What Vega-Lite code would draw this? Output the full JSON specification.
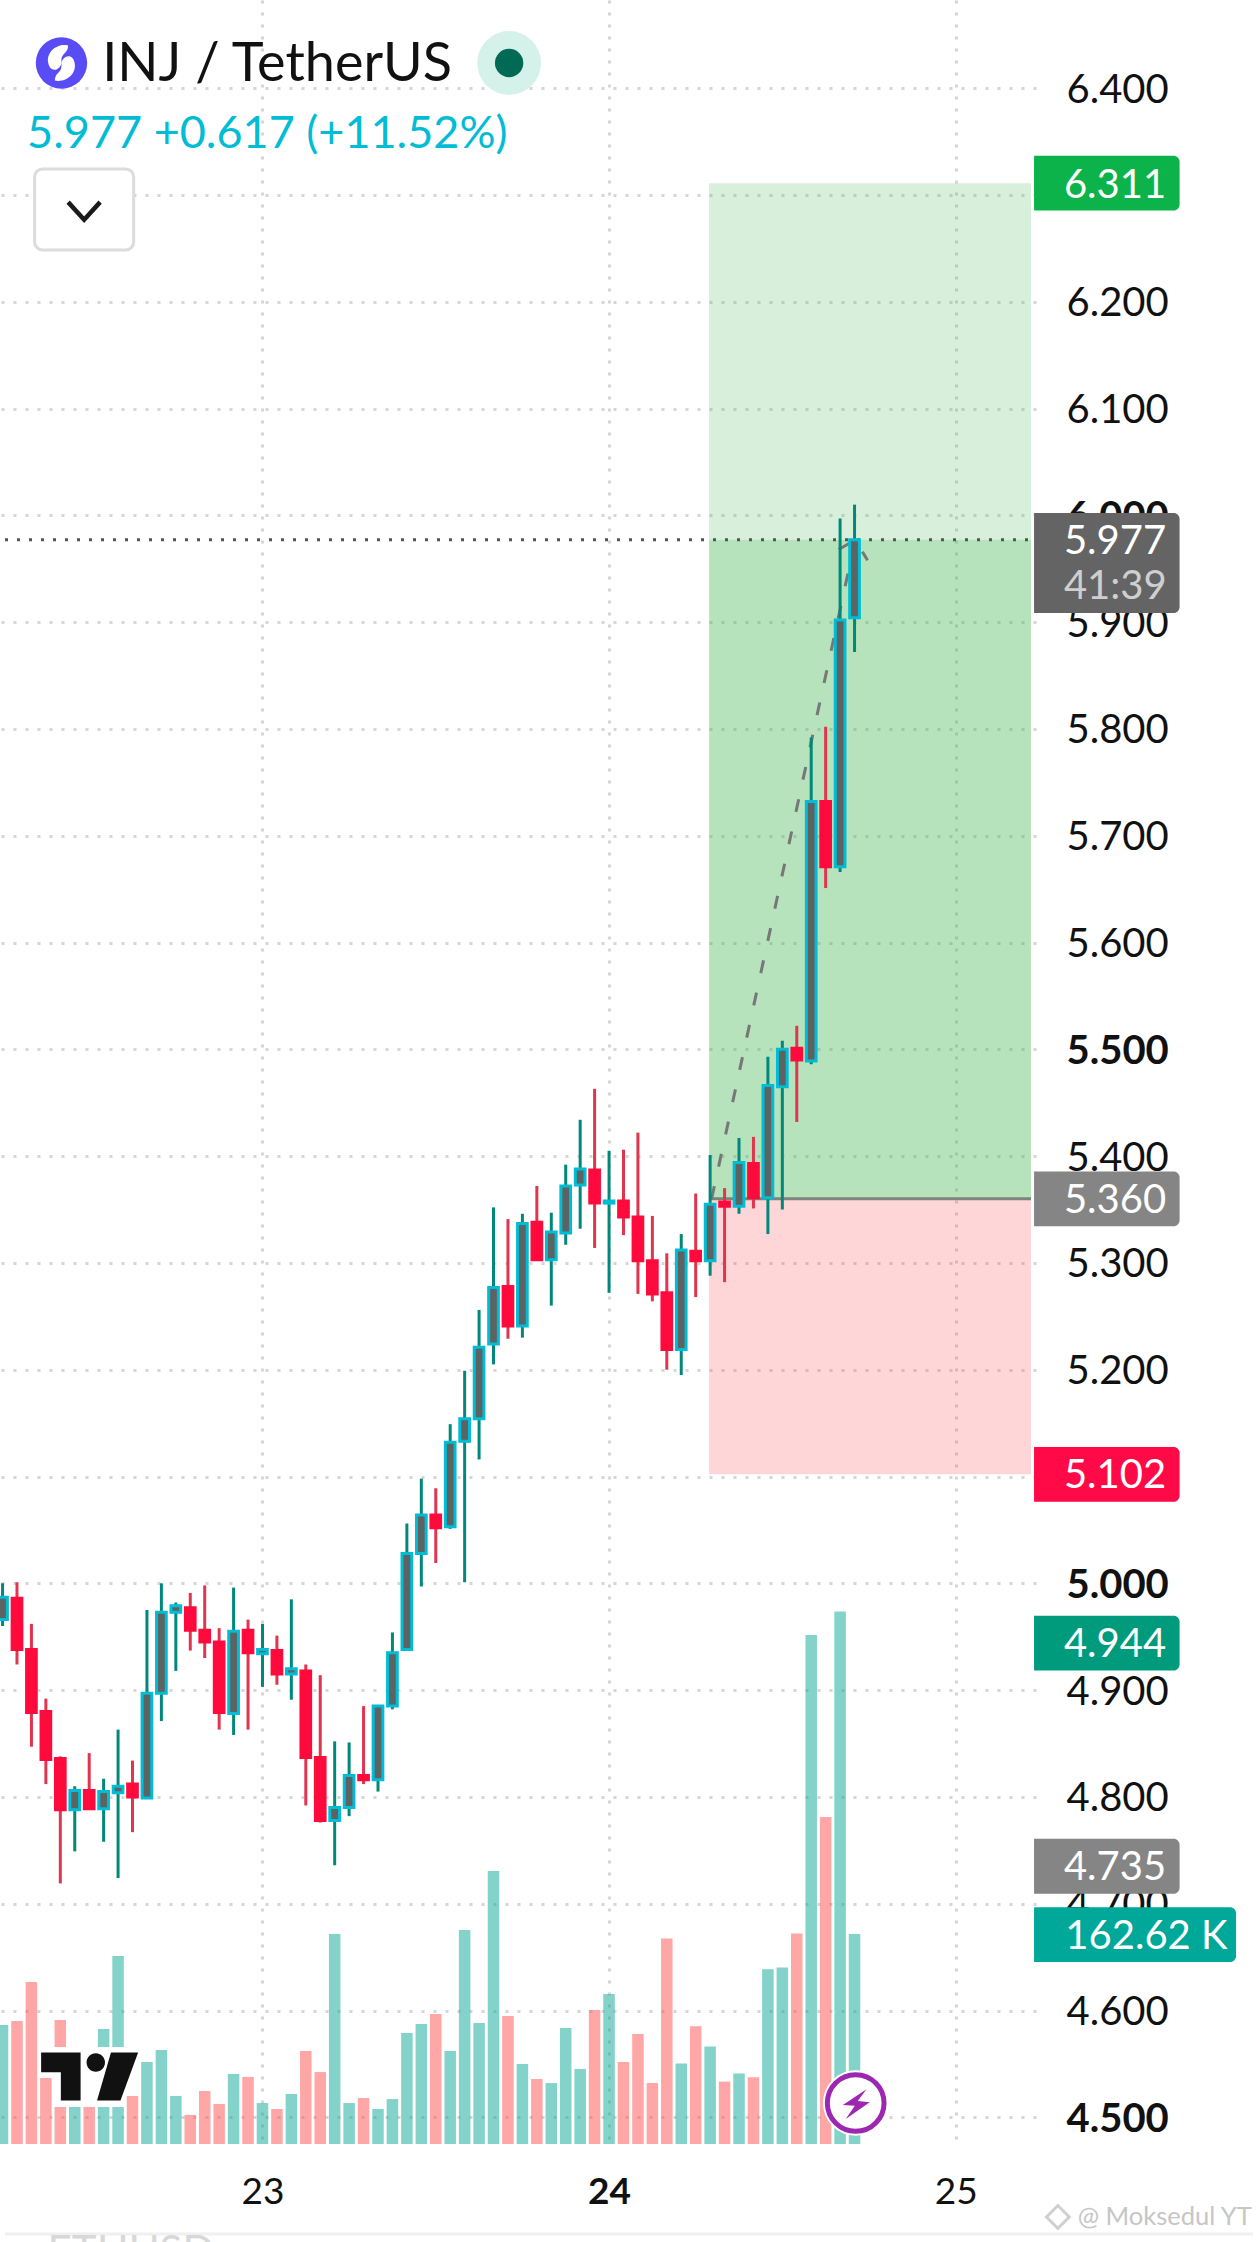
{
  "$schema": "https://vega.github.io/schema/vega-lite/v6.json",
  "width": 1036,
  "height": 2144,
  "autosize": {"type": "none"},
  "padding": {"left": 0, "top": 0, "right": 224, "bottom": 98},
  "background": "#ffffff",
  "view": {"stroke": null},
  "config": {"font": "Lato", "text": {"font": "Lato"}},
  "datasets": {
    "candles": [
      {"at": -18, "dir": "up", "open": 4.966, "close": 4.987, "high": 5.0, "low": 4.96, "vol": 92.1},
      {"at": -17, "dir": "down", "open": 4.986, "close": 4.938, "high": 5.001, "low": 4.924, "vol": 95.2},
      {"at": -16, "dir": "down", "open": 4.938, "close": 4.879, "high": 4.962, "low": 4.847, "vol": 125.4},
      {"at": -15, "dir": "down", "open": 4.88, "close": 4.835, "high": 4.892, "low": 4.812, "vol": 51.1},
      {"at": -14, "dir": "down", "open": 4.836, "close": 4.788, "high": 4.838, "low": 4.719, "vol": 96.0},
      {"at": -13, "dir": "up", "open": 4.788, "close": 4.806, "high": 4.81, "low": 4.749, "vol": 62.5},
      {"at": -12, "dir": "down", "open": 4.806, "close": 4.789, "high": 4.841, "low": 4.789, "vol": 60.0},
      {"at": -11, "dir": "up", "open": 4.789, "close": 4.805, "high": 4.817, "low": 4.758, "vol": 89.0},
      {"at": -10, "dir": "up", "open": 4.804, "close": 4.81, "high": 4.863, "low": 4.724, "vol": 145.6},
      {"at": -9, "dir": "down", "open": 4.812, "close": 4.8, "high": 4.834, "low": 4.767, "vol": 37.2},
      {"at": -8, "dir": "up", "open": 4.799, "close": 4.897, "high": 4.975, "low": 4.799, "vol": 63.5},
      {"at": -7, "dir": "up", "open": 4.897, "close": 4.973, "high": 5.0, "low": 4.871, "vol": 72.8},
      {"at": -6, "dir": "up", "open": 4.973, "close": 4.979, "high": 4.982, "low": 4.918, "vol": 37.2},
      {"at": -5, "dir": "down", "open": 4.977, "close": 4.956, "high": 4.991, "low": 4.937, "vol": 22.5},
      {"at": -4, "dir": "down", "open": 4.956, "close": 4.945, "high": 4.998, "low": 4.93, "vol": 41.0},
      {"at": -3, "dir": "down", "open": 4.945, "close": 4.879, "high": 4.958, "low": 4.863, "vol": 31.0},
      {"at": -2, "dir": "up", "open": 4.878, "close": 4.955, "high": 4.996, "low": 4.858, "vol": 54.2},
      {"at": -1, "dir": "down", "open": 4.956, "close": 4.935, "high": 4.966, "low": 4.863, "vol": 51.9},
      {"at": 0, "dir": "up", "open": 4.934, "close": 4.938, "high": 4.962, "low": 4.903, "vol": 31.7},
      {"at": 1, "dir": "down", "open": 4.937, "close": 4.915, "high": 4.951, "low": 4.905, "vol": 27.1},
      {"at": 2, "dir": "up", "open": 4.915, "close": 4.92, "high": 4.985, "low": 4.891, "vol": 38.7},
      {"at": 3, "dir": "down", "open": 4.918, "close": 4.837, "high": 4.924, "low": 4.792, "vol": 72.0},
      {"at": 4, "dir": "down", "open": 4.837, "close": 4.778, "high": 4.914, "low": 4.776, "vol": 55.7},
      {"at": 5, "dir": "up", "open": 4.778, "close": 4.79, "high": 4.852, "low": 4.736, "vol": 162.6},
      {"at": 6, "dir": "up", "open": 4.79, "close": 4.82, "high": 4.851, "low": 4.782, "vol": 31.7},
      {"at": 7, "dir": "down", "open": 4.82, "close": 4.816, "high": 4.885, "low": 4.812, "vol": 35.6},
      {"at": 8, "dir": "up", "open": 4.816, "close": 4.885, "high": 4.885, "low": 4.805, "vol": 27.1},
      {"at": 9, "dir": "up", "open": 4.885, "close": 4.935, "high": 4.954, "low": 4.882, "vol": 34.8},
      {"at": 10, "dir": "up", "open": 4.938, "close": 5.028, "high": 5.056, "low": 4.938, "vol": 85.9},
      {"at": 11, "dir": "up", "open": 5.028, "close": 5.064, "high": 5.098, "low": 4.997, "vol": 92.9},
      {"at": 12, "dir": "down", "open": 5.064, "close": 5.052, "high": 5.089, "low": 5.019, "vol": 100.7},
      {"at": 13, "dir": "up", "open": 5.053, "close": 5.132, "high": 5.149, "low": 5.051, "vol": 72.0},
      {"at": 14, "dir": "up", "open": 5.133, "close": 5.154, "high": 5.199, "low": 5.001, "vol": 165.7},
      {"at": 15, "dir": "up", "open": 5.154, "close": 5.221, "high": 5.256, "low": 5.116, "vol": 93.7},
      {"at": 16, "dir": "up", "open": 5.224, "close": 5.277, "high": 5.352, "low": 5.205, "vol": 211.4},
      {"at": 17, "dir": "down", "open": 5.278, "close": 5.241, "high": 5.341, "low": 5.229, "vol": 99.1},
      {"at": 18, "dir": "up", "open": 5.241, "close": 5.337, "high": 5.346, "low": 5.23, "vol": 61.9},
      {"at": 19, "dir": "down", "open": 5.338, "close": 5.303, "high": 5.372, "low": 5.302, "vol": 50.3},
      {"at": 20, "dir": "up", "open": 5.303, "close": 5.329, "high": 5.347, "low": 5.26, "vol": 47.2},
      {"at": 21, "dir": "up", "open": 5.328, "close": 5.372, "high": 5.392, "low": 5.317, "vol": 89.8},
      {"at": 22, "dir": "up", "open": 5.373, "close": 5.388, "high": 5.434, "low": 5.332, "vol": 58.1},
      {"at": 23, "dir": "down", "open": 5.387, "close": 5.356, "high": 5.463, "low": 5.314, "vol": 103.8},
      {"at": 24, "dir": "up", "open": 5.356, "close": 5.358, "high": 5.405, "low": 5.272, "vol": 116.1},
      {"at": 25, "dir": "down", "open": 5.358, "close": 5.343, "high": 5.406, "low": 5.326, "vol": 63.5},
      {"at": 26, "dir": "down", "open": 5.343, "close": 5.302, "high": 5.422, "low": 5.271, "vol": 85.2},
      {"at": 27, "dir": "down", "open": 5.302, "close": 5.271, "high": 5.344, "low": 5.264, "vol": 47.2},
      {"at": 28, "dir": "down", "open": 5.272, "close": 5.219, "high": 5.309, "low": 5.2, "vol": 159.1},
      {"at": 29, "dir": "up", "open": 5.219, "close": 5.312, "high": 5.327, "low": 5.195, "vol": 62.4},
      {"at": 30, "dir": "down", "open": 5.311, "close": 5.302, "high": 5.365, "low": 5.268, "vol": 91.1},
      {"at": 31, "dir": "up", "open": 5.302, "close": 5.355, "high": 5.401, "low": 5.288, "vol": 75.5},
      {"at": 32, "dir": "down", "open": 5.357, "close": 5.353, "high": 5.37, "low": 5.282, "vol": 48.3},
      {"at": 33, "dir": "up", "open": 5.353, "close": 5.394, "high": 5.417, "low": 5.346, "vol": 54.6},
      {"at": 34, "dir": "down", "open": 5.393, "close": 5.361, "high": 5.418, "low": 5.351, "vol": 51.6},
      {"at": 35, "dir": "up", "open": 5.361, "close": 5.466, "high": 5.493, "low": 5.327, "vol": 135.3},
      {"at": 36, "dir": "up", "open": 5.465, "close": 5.5, "high": 5.508, "low": 5.35, "vol": 136.6},
      {"at": 37, "dir": "down", "open": 5.501, "close": 5.49, "high": 5.522, "low": 5.432, "vol": 163.0},
      {"at": 38, "dir": "up", "open": 5.489, "close": 5.732, "high": 5.792, "low": 5.486, "vol": 394.1},
      {"at": 39, "dir": "down", "open": 5.732, "close": 5.671, "high": 5.802, "low": 5.651, "vol": 253.2},
      {"at": 40, "dir": "up", "open": 5.671, "close": 5.902, "high": 5.997, "low": 5.666, "vol": 412.3},
      {"at": 41, "dir": "up", "open": 5.904, "close": 5.977, "high": 6.01, "low": 5.872, "vol": 162.62}
    ]
  },
  "encoding": {
    "x": {
      "field": "at",
      "type": "quantitative",
      "scale": {"domain": [-17.83, 53.22], "nice": false, "zero": false},
      "axis": {
        "values": [0, 24, 48],
        "title": null,
        "labelExpr": "format(23 + datum.value / 24, 'd')",
        "labelFontSize": 37,
        "labelColor": "#111111",
        "labelFont": "Lato",
        "labelPadding": 30,
        "labelFontWeight": {"condition": {"test": "datum.value == 24", "value": "bold"}, "value": "normal"},
        "domain": false,
        "ticks": false,
        "grid": true,
        "gridColor": "#d6d6d6",
        "gridWidth": 3,
        "gridDash": [3, 9]
      }
    }
  },
  "layer": [
    {
      "resolve": {"scale": {"fill": "independent"}},
      "layer": [
        {
          "data": {"values": [
            {"zone": "profit", "at": 30.93, "to": 53.22, "price": 5.977, "price2": 6.311},
            {"zone": "open", "at": 30.93, "to": 53.22, "price": 5.36, "price2": 5.977},
            {"zone": "loss", "at": 30.93, "to": 53.22, "price": 5.102, "price2": 5.36}
          ]},
          "mark": {"type": "rect"},
          "encoding": {
            "x2": {"field": "to"},
            "y": {
              "field": "price",
              "type": "quantitative",
              "scale": {"domain": [4.475, 6.4825], "nice": false, "zero": false},
              "axis": {
                "orient": "right",
                "values": [4.5, 4.6, 4.7, 4.8, 4.9, 5, 5.1, 5.2, 5.3, 5.4, 5.5, 5.6, 5.7, 5.8, 5.9, 6, 6.1, 6.2, 6.3, 6.4],
                "format": ".3f",
                "title": null,
                "labelFontSize": 40,
                "labelColor": "#111111",
                "labelFont": "Lato",
                "labelPadding": 30,
                "labelOffset": 2,
                "labelOverlap": false,
                "labelBaseline": "middle",
                "labelFontWeight": {"condition": {"test": "datum.value == 4.5 || datum.value == 5 || datum.value == 5.5 || datum.value == 6", "value": "bold"}, "value": "normal"},
                "domain": false,
                "ticks": false,
                "grid": true,
                "gridColor": "#d6d6d6",
                "gridWidth": 3,
                "gridDash": [3, 9]
              }
            },
            "y2": {"field": "price2"},
            "fill": {
              "field": "zone",
              "type": "nominal",
              "legend": null,
              "scale": {"domain": ["profit", "open", "loss"], "range": ["rgba(56,176,74,0.2)", "rgba(56,176,74,0.37)", "rgba(255,50,60,0.2)"]}
            }
          }
        },
        {
          "data": {"values": [{"at": -17.83, "to": 53.22, "price": 5.977}]},
          "mark": {"type": "rule", "color": "#555555", "strokeWidth": 3, "strokeDash": [3, 9]},
          "encoding": {"x2": {"field": "to"}, "y": {"field": "price", "type": "quantitative"}}
        },
        {
          "data": {"values": [{"at": 30.93, "to": 53.22, "price": 5.36}]},
          "mark": {"type": "rule", "color": "#7c847d", "strokeWidth": 3},
          "encoding": {"x2": {"field": "to"}, "y": {"field": "price", "type": "quantitative"}}
        },
        {
          "data": {"values": [
            {"seg": "shaft", "at": 31.1, "price": 5.36},
            {"seg": "shaft", "at": 41.05, "price": 5.977},
            {"seg": "head", "at": 39.9, "price": 5.968},
            {"seg": "head", "at": 41.05, "price": 5.977},
            {"seg": "head", "at": 41.9, "price": 5.958}
          ]},
          "mark": {"type": "line", "color": "#777777", "strokeWidth": 3, "strokeDash": [13, 20]},
          "encoding": {"y": {"field": "price", "type": "quantitative"}, "detail": {"field": "seg"}}
        },
        {
          "data": {"name": "candles"},
          "mark": {"type": "rule", "strokeWidth": 3},
          "encoding": {
            "y": {"field": "low", "type": "quantitative"},
            "y2": {"field": "high"},
            "color": {
              "field": "dir",
              "type": "nominal",
              "legend": null,
              "scale": {"domain": ["up", "down"], "range": ["#00897b", "#e0344f"]}
            }
          }
        },
        {
          "data": {"name": "candles"},
          "mark": {"type": "bar", "orient": "vertical", "size": 9.7, "strokeWidth": 3},
          "encoding": {
            "y": {"field": "open", "type": "quantitative", "stack": null},
            "y2": {"field": "close"},
            "fill": {
              "field": "dir",
              "type": "nominal",
              "legend": null,
              "scale": {"domain": ["up", "down"], "range": ["#5c6363", "#ff0a3c"]}
            },
            "stroke": {
              "field": "dir",
              "type": "nominal",
              "legend": null,
              "scale": {"domain": ["up", "down"], "range": ["#00bcd4", "#ff0a3c"]}
            }
          }
        }
      ]
    },
    {
      "data": {"name": "candles"},
      "mark": {"type": "bar", "orient": "vertical", "size": 11.5, "opacity": 0.5},
      "encoding": {
        "y": {
          "field": "vol",
          "type": "quantitative",
          "stack": null,
          "axis": null,
          "scale": {"domain": [0, 1660], "nice": false}
        },
        "color": {
          "field": "dir",
          "type": "nominal",
          "legend": null,
          "scale": {"domain": ["up", "down"], "range": ["#08a896", "#ff4d4d"]}
        }
      }
    },
    {
      "layer": [
        {
          "data": {"values": [{"at": -14.47, "to": -9.53, "price": 4.5658, "price2": 4.5096}]},
          "mark": {"type": "rect", "color": "#ffffff", "opacity": 1},
          "encoding": {
            "x2": {"field": "to"},
            "y": {
              "field": "price",
              "type": "quantitative",
              "axis": null,
              "scale": {"domain": [4.475, 6.4825], "nice": false, "zero": false}
            },
            "y2": {"field": "price2"}
          }
        },
        {
          "data": {"values": [{"at": -11.97, "price": 4.5382}]},
          "mark": {
            "type": "point",
            "filled": true,
            "opacity": 1,
            "color": "#111111",
            "size": 9409,
            "shape": "M-1,-.495H-.186V.495H-.593V-.09H-1Z M.44,-.495H1L.636,.495H.153Z M.317,-.289A.19,.19 0 1 1 -.063,-.289A.19,.19 0 1 1 .317,-.289Z"
          },
          "encoding": {"y": {"field": "price", "type": "quantitative", "axis": null}}
        },
        {
          "data": {"values": [{"at": 41.08, "price": 4.5134}]},
          "mark": {"type": "point", "filled": true, "shape": "circle", "opacity": 1, "color": "#ffffff", "size": 4300},
          "encoding": {"y": {"field": "price", "type": "quantitative", "axis": null}}
        },
        {
          "data": {"values": [{"at": 41.08, "price": 4.5134}]},
          "mark": {"type": "point", "filled": true, "shape": "circle", "opacity": 1, "fill": "#ffffff", "stroke": "#9c27b0", "strokeWidth": 5, "size": 3217},
          "encoding": {"y": {"field": "price", "type": "quantitative", "axis": null}}
        },
        {
          "data": {"values": [{"at": 41.08, "price": 4.5134}]},
          "mark": {
            "type": "point",
            "filled": true,
            "opacity": 1,
            "color": "#9c27b0",
            "size": 576,
            "shape": "M.9,-1.15L-1.07,.17L-.07,.23L-.83,1.33L1.17,-.07L.17,-.17Z"
          },
          "encoding": {"y": {"field": "price", "type": "quantitative", "axis": null}}
        },
        {
          "data": {"values": [
            {"tag": "target", "at": 53.43, "to": 63.51, "price": 6.3367, "price2": 6.2853},
            {"tag": "last", "at": 53.43, "to": 63.51, "price": 6.0021, "price2": 5.9085},
            {"tag": "entry", "at": 53.43, "to": 63.51, "price": 5.3857, "price2": 5.3343},
            {"tag": "stop", "at": 53.43, "to": 63.51, "price": 5.1277, "price2": 5.0763},
            {"tag": "high", "at": 53.43, "to": 63.51, "price": 4.9697, "price2": 4.9183},
            {"tag": "entry", "at": 53.43, "to": 63.51, "price": 4.7607, "price2": 4.7093},
            {"tag": "volume", "at": 53.43, "to": 67.42, "price": 4.6967, "price2": 4.6453}
          ]},
          "mark": {"type": "rect", "cornerRadiusTopRight": 6, "cornerRadiusBottomRight": 6},
          "encoding": {
            "x2": {"field": "to"},
            "y": {"field": "price", "type": "quantitative", "axis": null},
            "y2": {"field": "price2"},
            "fill": {
              "field": "tag",
              "type": "nominal",
              "legend": null,
              "scale": {
                "domain": ["target", "last", "entry", "stop", "high", "volume"],
                "range": ["#0cb34a", "#646464", "#858585", "#ff0a46", "#009b7c", "#00a89a"]
              }
            }
          }
        },
        {
          "data": {"values": [
            {"label": "6.311", "at": 55.5, "price": 6.3106},
            {"label": "5.977", "at": 55.5, "price": 5.977},
            {"label": "5.360", "at": 55.5, "price": 5.36},
            {"label": "5.102", "at": 55.5, "price": 5.102},
            {"label": "4.944", "at": 55.5, "price": 4.944},
            {"label": "4.735", "at": 55.5, "price": 4.735},
            {"label": "162.62 K", "at": 55.6, "price": 4.671}
          ]},
          "mark": {"type": "text", "align": "left", "baseline": "middle", "dy": 2, "font": "Lato", "fontSize": 40, "color": "#ffffff"},
          "encoding": {"y": {"field": "price", "type": "quantitative", "axis": null}, "text": {"field": "label"}}
        },
        {
          "data": {"values": [{"label": "41:39", "at": 55.5, "price": 5.935}]},
          "mark": {"type": "text", "align": "left", "baseline": "middle", "dy": 2, "font": "Lato", "fontSize": 40, "color": "#cfcfcf"},
          "encoding": {"y": {"field": "price", "type": "quantitative", "axis": null}, "text": {"field": "label"}}
        },
        {
          "data": {"values": [{"at": -13.92, "price": 6.4235}]},
          "mark": {"type": "point", "filled": true, "shape": "circle", "opacity": 1, "color": "#5a4cf5", "size": 2640},
          "encoding": {"y": {"field": "price", "type": "quantitative", "axis": null}}
        },
        {
          "data": {"values": [{"at": -13.92, "price": 6.4235}]},
          "mark": {
            "type": "point",
            "filled": true,
            "opacity": 1,
            "color": "#ffffff",
            "size": 1936,
            "shape": "M.3,-.8C-.2,-.9 -.7,-.5 -.6,0C-.55,.3 -.3,.4 -.1,.2C.1,0 -.1,-.2 .1,-.4C.2,-.5 .3,-.6 .3,-.8Z M-.3,.8C.2,.9 .7,.5 .6,0C.55,-.3 .3,-.4 .1,-.2C-.1,0 .1,.2 -.1,.4C-.2,.5 -.3,.6 -.3,.8Z"
          },
          "encoding": {"y": {"field": "price", "type": "quantitative", "axis": null}}
        },
        {
          "data": {"values": [{"label": "INJ / TetherUS", "at": -11.1, "price": 6.4235}]},
          "mark": {"type": "text", "align": "left", "baseline": "middle", "dy": 2, "font": "Lato", "fontSize": 54, "color": "#111111"},
          "encoding": {"y": {"field": "price", "type": "quantitative", "axis": null}, "text": {"field": "label"}}
        },
        {
          "data": {"values": [{"at": 17.08, "price": 6.4235}]},
          "mark": {"type": "point", "filled": true, "shape": "circle", "opacity": 1, "color": "#d4f1ea", "size": 4071},
          "encoding": {"y": {"field": "price", "type": "quantitative", "axis": null}}
        },
        {
          "data": {"values": [{"at": 17.08, "price": 6.4235}]},
          "mark": {"type": "point", "filled": true, "shape": "circle", "opacity": 1, "color": "#006a55", "size": 804},
          "encoding": {"y": {"field": "price", "type": "quantitative", "axis": null}}
        },
        {
          "data": {"values": [{"label": "5.977  +0.617 (+11.52%)", "at": -16.3, "price": 6.3589}]},
          "mark": {"type": "text", "align": "left", "baseline": "middle", "dy": 2, "font": "Lato", "fontSize": 45, "color": "#00bcd4"},
          "encoding": {"y": {"field": "price", "type": "quantitative", "axis": null}, "text": {"field": "label"}}
        },
        {
          "data": {"values": [{"at": -15.78, "to": -8.92, "price": 6.3243, "price2": 6.2484}]},
          "mark": {"type": "rect", "fill": "#ffffff", "stroke": "#dcdcdc", "strokeWidth": 3, "cornerRadius": 8, "opacity": 1},
          "encoding": {
            "x2": {"field": "to"},
            "y": {"field": "price", "type": "quantitative", "axis": null},
            "y2": {"field": "price2"}
          }
        },
        {
          "data": {"values": [{"at": -12.35, "price": 6.285}]},
          "mark": {
            "type": "point",
            "filled": false,
            "opacity": 1,
            "stroke": "#1a1a1a",
            "strokeWidth": 4.5,
            "size": 1024,
            "shape": "M-1,-.55L0,.55L1,-.55"
          },
          "encoding": {"y": {"field": "price", "type": "quantitative", "axis": null}}
        },
        {
          "data": {"values": [{"at": 55.08, "price": 4.4067}]},
          "mark": {"type": "point", "filled": false, "shape": "diamond", "opacity": 1, "stroke": "#d0d0d0", "strokeWidth": 3, "size": 520},
          "encoding": {"y": {"field": "price", "type": "quantitative", "axis": null}}
        },
        {
          "data": {"values": [{"label": "@ Moksedul YT", "at": 56.45, "price": 4.4067}]},
          "mark": {"type": "text", "align": "left", "baseline": "middle", "font": "Lato", "fontSize": 25.5, "color": "#c6c6c6"},
          "encoding": {"y": {"field": "price", "type": "quantitative", "axis": null}, "text": {"field": "label"}}
        },
        {
          "data": {"values": [{"at": -17.83, "to": 68.6, "price": 4.3907}]},
          "mark": {"type": "rule", "color": "#f0f0f0", "strokeWidth": 3},
          "encoding": {"x2": {"field": "to"}, "y": {"field": "price", "type": "quantitative", "axis": null}}
        },
        {
          "data": {"values": [{"label": "ETHUSD", "at": -14.88, "price": 4.3608}]},
          "mark": {"type": "text", "align": "left", "baseline": "alphabetic", "font": "Lato", "fontSize": 42, "color": "#d8d8d8"},
          "encoding": {"y": {"field": "price", "type": "quantitative", "axis": null}, "text": {"field": "label"}}
        }
      ]
    }
  ],
  "resolve": {"scale": {"y": "independent", "color": "independent", "fill": "independent", "stroke": "independent"}}
}
